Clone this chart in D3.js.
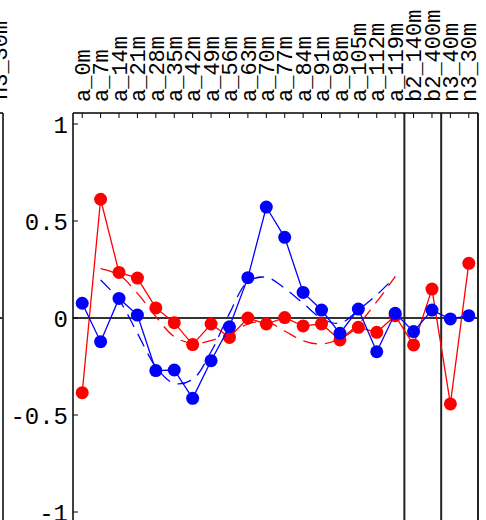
<!DOCTYPE html>
<html>
<head>
<meta charset="utf-8">
<script src="https://cdn.jsdelivr.net/npm/d3@7"></script>
<style>
  html, body { margin: 0; padding: 0; background: #fff; }
  svg { display: block; }
  text { font-family: "Liberation Mono", "DejaVu Sans Mono", monospace; }
</style>
</head>
<body>
<svg id="chart" width="486" height="520"></svg>
<script>
const categories = ["a_0m","a_7m","a_14m","a_21m","a_28m","a_35m","a_42m","a_49m","a_56m","a_63m","a_70m","a_77m","a_84m","a_91m","a_98m","a_105m","a_112m","a_119m","b2_140m","b2_400m","n3_40m","n3_30m"];
const blueValues = [0.076,-0.122,0.101,0.015,-0.271,-0.268,-0.414,-0.220,-0.045,0.208,0.572,0.416,0.132,0.041,-0.079,0.046,-0.174,0.024,-0.070,0.041,-0.005,0.012];
const redValues  = [-0.385,0.612,0.235,0.206,0.052,-0.024,-0.137,-0.031,-0.100,0.000,-0.031,0.002,-0.041,-0.031,-0.113,-0.048,-0.074,0.012,-0.139,0.149,-0.443,0.282];
const smoothCategories = ["a_7m","a_14m","a_21m","a_28m","a_35m","a_42m","a_49m","a_56m","a_63m","a_70m","a_77m","a_84m","a_91m","a_98m","a_105m","a_112m","a_119m"];
const blueSmooth = [0.196,0.093,-0.079,-0.251,-0.337,-0.316,-0.174,0.024,0.187,0.210,0.153,0.076,-0.002,-0.027,0.041,0.119,0.213];
const redSmooth  = [0.254,0.222,0.127,0.007,-0.096,-0.131,-0.117,-0.079,-0.031,-0.019,-0.067,-0.117,-0.134,-0.105,-0.031,0.084,0.213];
const yTicks = [1, 0.5, 0, -0.5, -1];
const yTickLabels = ["1", "0.5", "0", "-0.5", "-1"];
const separatorsAfter = ["a_119m", "b2_400m"];

const svg = d3.select("#chart");
const pLeft = 73, pRight = 478, pTop = 113;
const x = d3.scalePoint().domain(categories).range([pLeft, pRight]).padding(0.5);
const y = d3.scaleLinear().domain([-1, 1]).range([512, 124]);
const step = x.step();

// neighbouring panel remnant on the far left
svg.append("line").attr("x1", 3).attr("x2", 3).attr("y1", pTop).attr("y2", 520)
  .attr("stroke", "#000").attr("stroke-width", 1.5);
svg.append("line").attr("x1", 0).attr("x2", 3).attr("y1", pTop).attr("y2", pTop)
  .attr("stroke", "#000").attr("stroke-width", 1.5);
svg.append("line").attr("x1", 0).attr("x2", 3).attr("y1", y(0)).attr("y2", y(0))
  .attr("stroke", "#333").attr("stroke-width", 2);
svg.append("text").attr("transform", `translate(-1,100) rotate(-90)`)
  .attr("dy", "0.35em").attr("font-size", 22).attr("fill", "#000").text("n3_30m");

// zero line
svg.append("line").attr("x1", pLeft).attr("x2", pRight).attr("y1", y(0)).attr("y2", y(0))
  .attr("stroke", "#333").attr("stroke-width", 2);

// separators
separatorsAfter.forEach(c => {
  const xv = x(c) + step / 2;
  svg.append("line").attr("x1", xv).attr("x2", xv).attr("y1", pTop).attr("y2", 520)
    .attr("stroke", "#222").attr("stroke-width", 2);
});

// frame
svg.append("line").attr("x1", pLeft).attr("x2", pLeft).attr("y1", pTop).attr("y2", 520)
  .attr("stroke", "#000").attr("stroke-width", 1.5);
svg.append("line").attr("x1", pRight).attr("x2", pRight).attr("y1", pTop).attr("y2", 520)
  .attr("stroke", "#222").attr("stroke-width", 2);
svg.append("line").attr("x1", pLeft).attr("x2", pRight).attr("y1", pTop).attr("y2", pTop)
  .attr("stroke", "#000").attr("stroke-width", 1.5);

// top ticks + labels
const gTop = svg.append("g");
gTop.selectAll("line").data(categories).join("line")
  .attr("x1", d => x(d)).attr("x2", d => x(d)).attr("y1", pTop).attr("y2", pTop + 5)
  .attr("stroke", "#000").attr("stroke-width", 1);
gTop.selectAll("text").data(categories).join("text")
  .attr("transform", d => `translate(${x(d)},102) rotate(-90)`)
  .attr("dy", "0.35em").attr("font-size", 22).attr("fill", "#000").text(d => d);

// y axis ticks + labels
const gY = svg.append("g");
gY.selectAll("line").data(yTicks).join("line")
  .attr("x1", pLeft).attr("x2", pLeft + 5).attr("y1", d => y(d)).attr("y2", d => y(d))
  .attr("stroke", "#000").attr("stroke-width", 1);
gY.selectAll("text").data(yTicks).join("text")
  .attr("x", pLeft - 5).attr("y", d => y(d)).attr("dy", "0.36em")
  .attr("text-anchor", "end").attr("font-size", 24).attr("fill", "#000")
  .text((d, i) => yTickLabels[i]);

// smoothed dashed lines
const smoothLine = d3.line().x((d, i) => x(smoothCategories[i])).y(d => y(d)).curve(d3.curveCatmullRom);
svg.append("path").attr("d", smoothLine(blueSmooth)).attr("fill", "none")
  .attr("stroke", "#0000ff").attr("stroke-width", 1.3).attr("stroke-dasharray", "14,8");
svg.append("path").attr("d", smoothLine(redSmooth)).attr("fill", "none")
  .attr("stroke", "#ff0000").attr("stroke-width", 1.3).attr("stroke-dasharray", "14,8");

// series
const line = d3.line().x((d, i) => x(categories[i])).y(d => y(d));
function drawSeries(vals, color) {
  svg.append("path").attr("d", line(vals)).attr("fill", "none")
    .attr("stroke", color).attr("stroke-width", 1.3);
  svg.append("g").selectAll("circle").data(vals).join("circle")
    .attr("cx", (d, i) => x(categories[i])).attr("cy", d => y(d)).attr("r", 6.5)
    .attr("fill", color);
}
drawSeries(redValues, "#ff0000");
drawSeries(blueValues, "#0000ff");
</script>
</body>
</html>
